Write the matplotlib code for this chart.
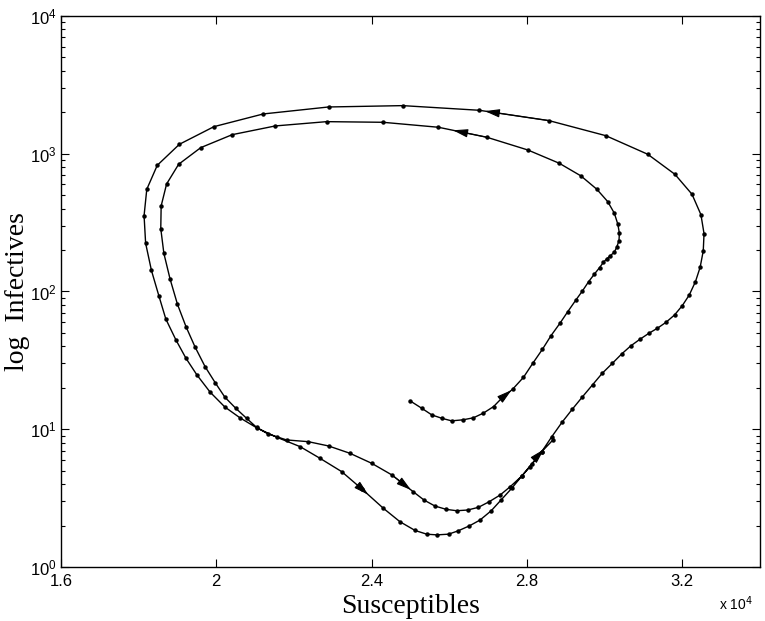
import numpy as np
import matplotlib
matplotlib.use("Agg")
import matplotlib.pyplot as plt

# ---------- trajectory ----------
susceptibles = [
    25000, 25290, 25550, 25810, 26060, 26350, 26620, 26880, 27140, 27360,
    27630, 27910, 28150, 28400, 28620, 28850, 29050, 29260, 29430, 29590,
    29730, 29870, 29970, 30060, 30140, 30250, 30310, 30370, 30380, 30340,
    30250, 30080, 29800, 29390, 28830, 28020, 26970, 25720, 24290, 22840,
    21520, 20410, 19600, 19030, 18720, 18580, 18570, 18650, 18810, 19000,
    19220, 19450, 19710, 19970, 20220, 20500, 20780, 21040, 21330, 21810,
    22370, 22890, 23440, 24000, 24520, 25070, 25350, 25630, 25920, 26190,
    26470, 26750, 27030, 27310, 27570, 27870, 28080, 28380, 28640, 28900,
    29170, 29430, 29690, 29940, 30200, 30440, 30670, 30910, 31140, 31360,
    31580, 31800, 32000, 32180, 32340, 32460, 32540, 32560, 32480, 32250,
    31810, 31110, 30030, 28570, 26770, 24800, 22890, 21210, 19940, 19050,
    18480, 18210, 18140, 18180, 18330, 18520, 18700, 18960, 19220, 19500,
    19840, 20220, 20610, 21050, 21560, 22160, 22670, 23230, 23750, 24300,
    24730, 25120, 25420, 25680, 25980, 26230, 26520, 26790, 27080, 27330,
    27610, 27870, 28120, 28380, 28670,
]
infectives = [
    16.0, 14.2, 12.7, 12.0, 11.5, 11.7, 12.1, 13.1, 14.6, 16.9,
    19.5, 23.8, 30.1, 38.1, 47.8, 58.8, 71.3, 86.7, 101, 118,
    133, 149, 163, 173, 181, 193, 209, 234, 265, 308,
    370, 449, 552, 690, 853, 1065, 1316, 1556, 1691, 1709,
    1591, 1375, 1107, 838, 603, 418, 286, 189, 123, 80.7,
    55.5, 39.7, 28.5, 21.8, 17.1, 14.2, 12.0, 10.3, 9.24, 8.36,
    8.12, 7.56, 6.69, 5.66, 4.66, 3.52, 3.06, 2.77, 2.62, 2.56,
    2.59, 2.71, 2.98, 3.33, 3.83, 4.58, 5.35, 6.87, 8.83, 11.2,
    14.0, 17.2, 21.0, 25.5, 30.1, 35.2, 40.2, 45.0, 49.7, 54.1,
    59.7, 67.5, 78.9, 94.3, 118, 150, 197, 263, 361, 508,
    709, 991, 1352, 1738, 2067, 2234, 2184, 1944, 1572, 1171,
    824, 552, 355, 224, 142, 93.2, 63.1, 44.5, 32.7, 24.8,
    18.6, 14.5, 12.1, 10.2, 8.74, 7.47, 6.15, 4.92, 3.68, 2.67,
    2.13, 1.84, 1.73, 1.71, 1.73, 1.83, 1.99, 2.19, 2.56, 3.06,
    3.73, 4.58, 5.59, 6.87, 8.36,
]

# direction arrows: (segment start index, fraction along segment)
arrow_segments = [(9, 0.9), (36, 0.7), (64, 0.9), (103, 0.92), (128, 0.3), (143, 0.2)]

x_ticks = [16000, 20000, 24000, 28000, 32000]
x_tick_labels = ["1.6", "2", "2.4", "2.8", "3.2"]

S = np.array(susceptibles, dtype=float)
I = np.array(infectives, dtype=float)

fig = plt.figure(figsize=(7.65, 6.21), dpi=100, facecolor="white")
ax = fig.add_axes([0.0797, 0.087, 0.9137, 0.8873])

ax.plot(S, I, color="black", lw=1.0, marker="o", markersize=2.2,
        markerfacecolor="black", markeredgecolor="black")

# arrow heads along the trajectory
for k, t in arrow_segments:
    xs = S[k] + t * (S[k + 1] - S[k])
    ys = 10 ** (np.log10(I[k]) + t * (np.log10(I[k + 1]) - np.log10(I[k])))
    ax.annotate("", xy=(xs, ys), xytext=(S[k], I[k]),
                arrowprops=dict(arrowstyle="-|>,head_length=1.0,head_width=0.28",
                                color="black", lw=0.8, shrinkA=0, shrinkB=0,
                                mutation_scale=9))

ax.set_yscale("log")
ax.set_xlim(16000, 34000)
ax.set_ylim(1, 1e4)

ax.set_xticks(x_ticks)
ax.set_xticklabels(x_tick_labels, fontsize=12, family="Liberation Sans")
ax.minorticks_off()
ax.yaxis.set_minor_locator(matplotlib.ticker.LogLocator(base=10, subs=np.arange(2, 10)))
for lab in ax.get_yticklabels():
    lab.set_fontsize(12)
    lab.set_family("Liberation Sans")

ax.tick_params(which="both", direction="in", top=True, right=True, width=0.8)
ax.tick_params(which="major", length=6)
ax.tick_params(axis="x", which="major", pad=5)
ax.tick_params(axis="y", which="major", pad=3)
ax.tick_params(which="minor", length=3)
for sp in ax.spines.values():
    sp.set_linewidth(1.0)

ax.set_xlabel("Susceptibles", fontsize=20, family="Liberation Serif", labelpad=4)
ax.set_ylabel("log  Infectives", fontsize=20, family="Liberation Serif")
ax.yaxis.set_label_coords(-0.045, 0.5)

fig.text(0.94, 0.018, r"x 10$^{4}$", fontsize=10, family="Liberation Sans")

fig.savefig("out.png", dpi=100, facecolor="white")
